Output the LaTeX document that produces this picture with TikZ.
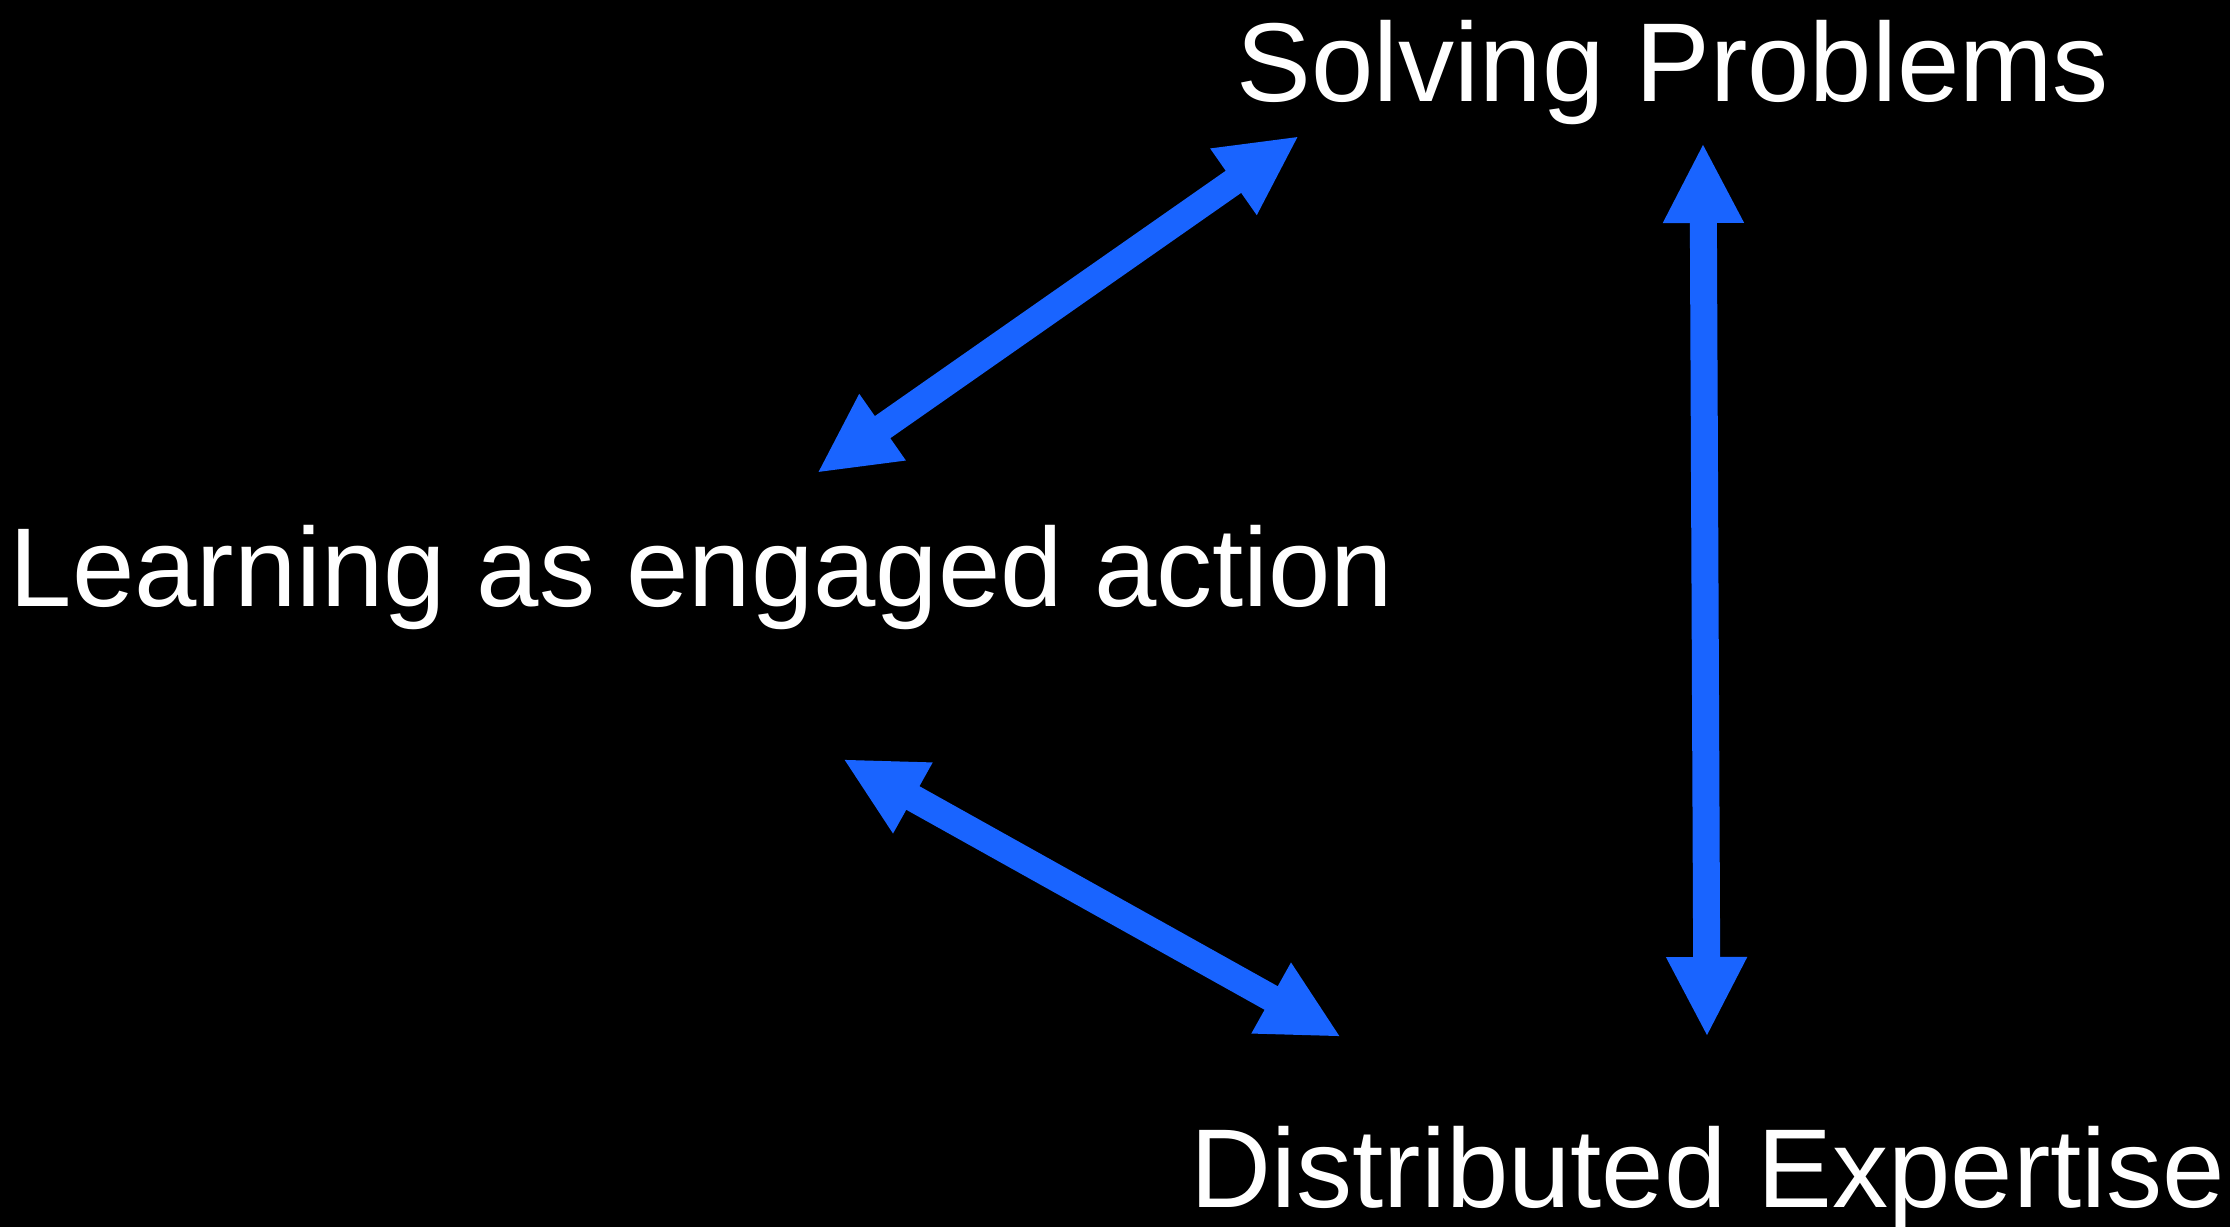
\documentclass[tikz,border=0pt]{standalone}
\usepackage{fontspec}
\setmainfont{Liberation Sans}
\usetikzlibrary{arrows.meta}
\definecolor{arrowblue}{RGB}{25,100,255}
\tikzset{
  topic/.style={text=white, inner sep=0pt, anchor=base west, font=\fontsize{31.9}{38}\selectfont},
  link/.style={line width=2.7mm, draw=arrowblue, arrows={Triangle[length=8mm,width=7.5mm]-Triangle[length=8mm,width=7.5mm]}},
}
\begin{document}
\begin{tikzpicture}[x=0.1mm,y=-0.1mm]
  \useasboundingbox (0,0) rectangle (2230,1227);
  \fill[black] (0,0) rectangle (2230,1227);
  \node[topic] (solve) at (1236,102) {Solving Problems};
  \node[topic] (learn) at (9,607) {Learning as engaged action};
  \node[topic] (expert) at (1190,1207) {Distributed Expertise};
  % arrow ends
  \coordinate (learnup) at (817,473);
  \coordinate (solveleft) at (1299,136);
  \coordinate (solvedown) at (1703,143);
  \coordinate (expertup) at (1707,1037);
  \coordinate (learndown) at (843,759);
  \coordinate (expertleft) at (1341,1037);
  \draw[link] (learnup) -- (solveleft);
  \draw[link] (solvedown) -- (expertup);
  \draw[link] (learndown) -- (expertleft);
\end{tikzpicture}
\end{document}
